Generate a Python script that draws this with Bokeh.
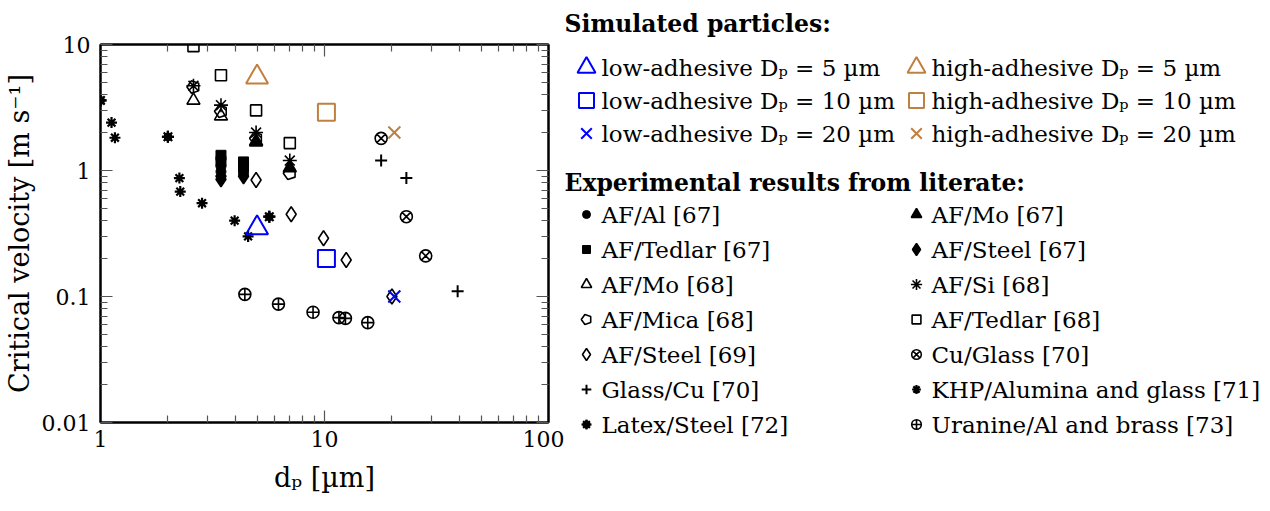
from bokeh.plotting import figure
from bokeh.models import Range1d, FixedTicker, CustomJSTickFormatter, LogAxis
from bokeh.layouts import row
from bokeh.embed import file_html
from bokeh.resources import INLINE
from bokeh.core.properties import value
import math

FONT = "DejaVu Serif"
BLUE = "#0000FF"
ORANGE = "#C08040"

# ---------------- data ----------------
# Simulated particles (particle diameter, critical velocity)
sim_dp = [5.0, 10.2, 20.5]
sim_low_v = [0.35, 0.2, 0.1]
sim_high_v = [5.5, 2.9, 2.0]
sim_low_labels = ["low-adhesive Dₚ = 5 µm", "low-adhesive Dₚ = 10 µm", "low-adhesive Dₚ = 20 µm"]
sim_high_labels = ["high-adhesive Dₚ = 5 µm", "high-adhesive Dₚ = 10 µm", "high-adhesive Dₚ = 20 µm"]

# Experimental results
af_al67_x = [3.45, 3.45, 4.35]
af_al67_y = [1.08, 0.98, 0.95]
af_tedlar67_x = [3.45, 3.45, 4.35, 4.35]
af_tedlar67_y = [1.32, 1.18, 1.17, 1.07]
af_mo68_x = [2.6, 3.45, 4.95]
af_mo68_y = [3.6, 2.7, 1.7]
af_mica68_x = [2.6, 3.45, 4.95, 7.0]
af_mica68_y = [4.6, 2.95, 1.8, 0.95]
af_steel69_x = [4.95, 7.1, 9.9, 12.5, 20.0]
af_steel69_y = [0.84, 0.45, 0.29, 0.195, 0.1]
glass_cu70_x = [17.9, 23.2, 39.3]
glass_cu70_y = [1.2, 0.87, 0.11]
latex72_x = [1.0, 2.0, 5.67]
latex72_y = [3.6, 1.85, 0.43]
af_mo67_x = [4.95, 7.0]
af_mo67_y = [1.68, 1.05]
af_steel67_x = [3.45, 3.45, 4.35]
af_steel67_y = [0.9, 0.85, 0.9]
af_si68_x = [2.6, 3.45, 4.95, 7.0]
af_si68_y = [4.7, 3.3, 2.0, 1.2]
af_tedlar68_x = [2.6, 3.45, 4.95, 7.0]
af_tedlar68_y = [9.7, 5.7, 3.0, 1.65]
cu_glass70_x = [17.9, 23.2, 28.3]
cu_glass70_y = [1.8, 0.43, 0.21]
khp71_x = [1.12, 1.16, 2.25, 2.27, 2.84, 3.97, 4.56]
khp71_y = [2.4, 1.82, 0.87, 0.68, 0.55, 0.40, 0.30]
uranine73_x = [4.41, 6.23, 8.89, 11.6, 12.4, 15.6]
uranine73_y = [0.104, 0.087, 0.075, 0.068, 0.067, 0.062]

exp_col1 = [
    ("AF/Al [67]", af_al67_x, af_al67_y, "fcircle"),
    ("AF/Tedlar [67]", af_tedlar67_x, af_tedlar67_y, "fsquare"),
    ("AF/Mo [68]", af_mo68_x, af_mo68_y, "otriangle"),
    ("AF/Mica [68]", af_mica68_x, af_mica68_y, "pentagon"),
    ("AF/Steel [69]", af_steel69_x, af_steel69_y, "odiamond"),
    ("Glass/Cu [70]", glass_cu70_x, glass_cu70_y, "plus"),
    ("Latex/Steel [72]", latex72_x, latex72_y, "burst"),
]
exp_col2 = [
    ("AF/Mo [67]", af_mo67_x, af_mo67_y, "ftriangle"),
    ("AF/Steel [67]", af_steel67_x, af_steel67_y, "fdiamond"),
    ("AF/Si [68]", af_si68_x, af_si68_y, "star"),
    ("AF/Tedlar [68]", af_tedlar68_x, af_tedlar68_y, "osquare"),
    ("Cu/Glass [70]", cu_glass70_x, cu_glass70_y, "circlex"),
    ("KHP/Alumina and glass [71]", khp71_x, khp71_y, "asterisk"),
    ("Uranine/Al and brass [73]", uranine73_x, uranine73_y, "circlecross"),
]

x_major = [1, 10, 100]
x_minor = [2, 3, 4, 5, 6, 7, 8, 9, 20, 30, 40, 50, 60, 70, 80, 90]
y_major = [0.01, 0.1, 1, 10]
y_minor = [0.02, 0.03, 0.04, 0.05, 0.06, 0.07, 0.08, 0.09,
           0.2, 0.3, 0.4, 0.5, 0.6, 0.7, 0.8, 0.9,
           2, 3, 4, 5, 6, 7, 8, 9]


def draw(fig, xs, ys, kind, s=1.0, color="black"):
    lw = 1.6
    if kind == "fcircle":
        fig.scatter(xs, ys, marker="circle", size=10 * s, fill_color=color, line_color=color)
    elif kind == "fsquare":
        fig.scatter(xs, ys, marker="square", size=10 * s, fill_color=color, line_color=color)
    elif kind == "otriangle":
        fig.scatter(xs, ys, marker="triangle", size=13 * s, fill_color=None, line_color=color, line_width=lw)
    elif kind == "ftriangle":
        fig.scatter(xs, ys, marker="triangle", size=13 * s, fill_color=color, line_color=color, line_width=lw)
    elif kind == "pentagon":
        try:
            fig.ngon(x=xs, y=ys, radius=6.5 * s, radius_units="screen", n=5, angle=math.pi / 2,
                     fill_color=None, line_color=color, line_width=lw)
        except Exception:
            fig.scatter(xs, ys, marker="hex", size=12 * s, fill_color=None, line_color=color, line_width=lw)
    elif kind == "odiamond":
        fig.scatter(xs, ys, marker="diamond", size=15 * s, fill_color=None, line_color=color, line_width=lw)
    elif kind == "fdiamond":
        fig.scatter(xs, ys, marker="diamond", size=15 * s, fill_color=color, line_color=color, line_width=lw)
    elif kind == "plus":
        fig.scatter(xs, ys, marker="cross", size=12 * s, line_color=color, line_width=2)
    elif kind == "burst":
        fig.scatter(xs, ys, marker="circle", size=8 * s, fill_color=color, line_color=color)
        fig.scatter(xs, ys, marker="asterisk", size=12 * s, line_color=color, line_width=2.2)
        fig.scatter(xs, ys, marker="cross", size=12 * s, line_color=color, line_width=2.2)
    elif kind == "star":
        fig.scatter(xs, ys, marker="asterisk", size=14 * s, line_color=color, line_width=1.6)
    elif kind == "osquare":
        fig.scatter(xs, ys, marker="square", size=11 * s, fill_color=None, line_color=color, line_width=lw)
    elif kind == "circlex":
        fig.scatter(xs, ys, marker="circle_x", size=12 * s, fill_color=None, line_color=color, line_width=lw)
    elif kind == "asterisk":
        fig.scatter(xs, ys, marker="asterisk", size=11 * s, line_color=color, line_width=2.2)
    elif kind == "circlecross":
        fig.scatter(xs, ys, marker="circle_cross", size=12 * s, fill_color=None, line_color=color, line_width=lw)


# ---------------- main plot ----------------
p = figure(x_axis_type="log", y_axis_type="log", title=None,
           x_range=Range1d(1, 100), y_range=Range1d(0.01, 10),
           frame_width=448, frame_height=378,
           min_border_left=93, min_border_right=16, min_border_top=37, min_border_bottom=78,
           output_backend="svg", toolbar_location=None)
p.grid.visible = False
p.outline_line_color = "black"
p.outline_line_width = 2

fmt = CustomJSTickFormatter(code="return tick.toString();")
blank_fmt = CustomJSTickFormatter(code="return '';")


def style_axis(ax, ticker, show_labels):
    ax.ticker = ticker
    ax.major_tick_in = 12
    ax.major_tick_out = 0
    ax.minor_tick_in = 7
    ax.minor_tick_out = 0
    ax.axis_line_color = "black"
    ax.axis_line_width = 2
    ax.major_tick_line_color = "#555555"
    ax.minor_tick_line_color = "#555555"
    ax.major_tick_line_width = 1.2
    ax.minor_tick_line_width = 1.2
    ax.major_label_text_font = FONT
    ax.major_label_text_color = "black"
    if show_labels:
        ax.formatter = fmt
        ax.major_label_text_font_size = "22px"
    else:
        ax.formatter = blank_fmt
        ax.major_label_text_font_size = "1px"
        ax.major_label_standoff = 0


xax = p.xaxis[0]
yax = p.yaxis[0]
style_axis(xax, FixedTicker(ticks=x_major, minor_ticks=x_minor), True)
style_axis(yax, FixedTicker(ticks=y_major, minor_ticks=y_minor), True)
xax.major_label_standoff = 8
yax.major_label_standoff = 10

rax = LogAxis()
style_axis(rax, FixedTicker(ticks=y_major, minor_ticks=y_minor), False)
p.add_layout(rax, "right")
tax = LogAxis()
style_axis(tax, FixedTicker(ticks=x_major, minor_ticks=x_minor), False)
p.add_layout(tax, "above")

xax.axis_label = "dₚ [µm]"
yax.axis_label = "Critical velocity [m s⁻¹]"
for ax in (xax, yax):
    ax.axis_label_text_font = FONT
    ax.axis_label_text_font_size = "27px"
    ax.axis_label_text_font_style = "normal"
    ax.axis_label_text_color = "black"
xax.axis_label_standoff = 12
yax.axis_label_standoff = 4

for _, xs, ys, kind in exp_col1 + exp_col2:
    draw(p, xs, ys, kind)

p.scatter(sim_dp[0:1], sim_low_v[0:1], marker="triangle", size=22, fill_color=None, line_color=BLUE, line_width=2)
p.scatter(sim_dp[1:2], sim_low_v[1:2], marker="square", size=17, fill_color=None, line_color=BLUE, line_width=2)
p.scatter(sim_dp[2:3], sim_low_v[2:3], marker="x", size=17, line_color=BLUE, line_width=2)
p.scatter(sim_dp[0:1], sim_high_v[0:1], marker="triangle", size=22, fill_color=None, line_color=ORANGE, line_width=2)
p.scatter(sim_dp[1:2], sim_high_v[1:2], marker="square", size=17, fill_color=None, line_color=ORANGE, line_width=2)
p.scatter(sim_dp[2:3], sim_high_v[2:3], marker="x", size=17, line_color=ORANGE, line_width=2)

# ---------------- legend panel ----------------
# frame top is aligned with the plot frame top; y = pixels below that line
LH = 458
lf = figure(x_range=Range1d(565, 1262), y_range=Range1d(LH, 0),
            title="Simulated particles:",
            frame_width=697, frame_height=LH,
            min_border_top=0, min_border_left=0, min_border_right=0, min_border_bottom=0,
            x_axis_location=None, y_axis_location=None,
            output_backend="svg", toolbar_location=None)
lf.grid.visible = False
lf.outline_line_color = None
lf.title.text_font = FONT
lf.title.text_font_size = "23.5px"
lf.title.text_font_style = "bold"
lf.title.text_color = "black"
lf.title.align = "left"
lf.title.standoff = 14

TXT = dict(text_font=value(FONT), text_font_size="23px", text_baseline="middle",
           text_align="left", text_color="black")

sim_rows = [23, 56, 89]
c1m, c1t, c2m, c2t = 587, 602, 917, 932
sim_markers = ["triangle", "square", "x"]
for i, yy in enumerate(sim_rows):
    for mx, col in ((c1m, BLUE), (c2m, ORANGE)):
        lf.scatter([mx], [yy], marker=sim_markers[i], size=18 if i == 0 else 15,
                   fill_color=None, line_color=col, line_width=2)
lf.text(x=[c1t] * 3, y=sim_rows, text=sim_low_labels, **TXT)
lf.text(x=[c2t] * 3, y=sim_rows, text=sim_high_labels, **TXT)

lf.text(x=[565], y=[138], text=["Experimental results from literate:"],
        **dict(TXT, text_font_size="23.5px"), text_font_style="bold")
exp_rows = [170 + 35 * i for i in range(7)]
for i, yy in enumerate(exp_rows):
    draw(lf, [c1m], [yy], exp_col1[i][3], s=0.8)
    draw(lf, [c2m], [yy], exp_col2[i][3], s=0.8)
lf.text(x=[c1t] * 7, y=exp_rows, text=[e[0] for e in exp_col1], **TXT)
lf.text(x=[c2t] * 7, y=exp_rows, text=[e[0] for e in exp_col2], **TXT)

layout = row(p, lf)
open("out.html", "w").write(file_html(layout, INLINE))
